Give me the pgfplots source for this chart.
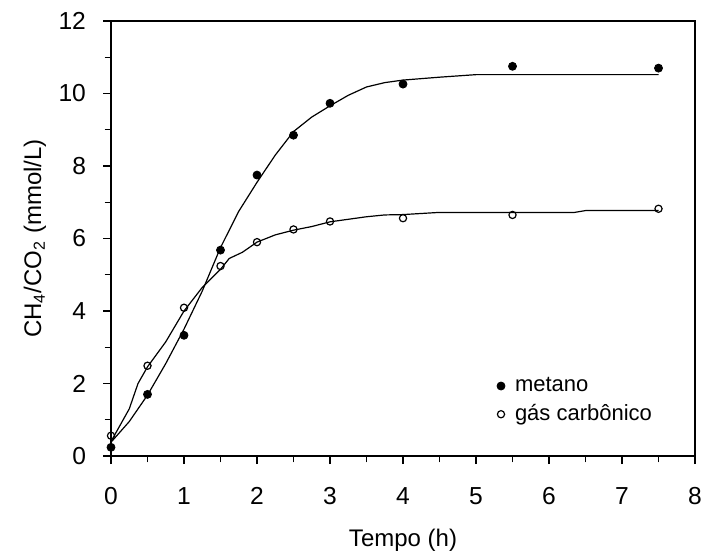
\documentclass[border=0pt]{standalone}
\usepackage{pgfplots}
\pgfplotsset{compat=1.18}
\usepackage{fontspec}
\setmainfont{Liberation Sans}
\begin{document}
\begin{tikzpicture}
\begin{axis}[
  scale only axis,
  width=292pt, height=217.5pt,
  xmin=0, xmax=8, ymin=0, ymax=12,
  xtick={0,1,...,8}, ytick={0,2,...,12},
  minor x tick num=1, minor y tick num=1,
  xtick pos=bottom, ytick pos=left,
  tick align=outside,
  major tick length=4pt, minor tick length=3.2pt,
  every tick/.style={black, line width=0.6pt},
  axis line style={line width=0.6pt},
  /pgf/number format/assume math mode=true,
  ticklabel style={font=\fontsize{12.3}{14}\selectfont},
  xticklabel style={yshift=-8pt},
  yticklabel style={xshift=-5pt},
  label style={font=\fontsize{12}{14}\selectfont},
  xlabel={Tempo (h)},
  ylabel={CH\textsubscript{4}/CO\textsubscript{2} (mmol/L)},
  xlabel style={at={(rel axis cs:0.5,0)}, anchor=center, yshift=-42pt},
  ylabel style={at={(rel axis cs:0,0.5)}, anchor=center, rotate=0, yshift=38pt},
  clip=false,
  legend style={at={(axis cs:5.2,2.4)}, anchor=north west, draw=none, fill=none,
    font=\fontsize{11}{13}\selectfont, row sep=1pt,
    /tikz/every odd column/.append style={column sep=3pt}},
  legend cell align=left,
]
\coordinate (ll) at (rel axis cs:0,0);
\coordinate (ur) at (rel axis cs:1,1);
% fitted curves
\addplot[black, line width=0.6pt, forget plot] coordinates {
(0,0.38) (0.25,0.95) (0.5,1.68) (0.75,2.55) (1,3.5) (1.25,4.55) (1.5,5.75) (1.75,6.75) (2,7.55) (2.25,8.3) (2.5,8.95) (2.75,9.35) (3,9.66) (3.25,9.95) (3.5,10.18) (3.75,10.3) (4,10.37) (4.5,10.45) (5,10.52) (5.5,10.52) (6,10.52) (7.5,10.52)};
\addplot[black, line width=0.6pt, forget plot] coordinates {
(0,0.4) (0.25,1.3) (0.37,2.0) (0.5,2.46) (0.75,3.15) (1,4.0) (1.25,4.65) (1.5,5.15) (1.62,5.45) (1.8,5.62) (2,5.9) (2.25,6.1) (2.5,6.23) (2.75,6.33) (3,6.46) (3.25,6.53) (3.5,6.6) (3.75,6.65) (4,6.66) (4.5,6.72) (6.35,6.72) (6.5,6.77) (7.5,6.77)};
% data
\addplot[only marks, mark=*, mark size=2pt, mark options={fill=black, draw=black}] coordinates {
(0,0.24) (0.5,1.70) (1,3.33) (1.5,5.68) (2,7.75) (2.5,8.85) (3,9.73) (4,10.26) (5.5,10.75) (7.5,10.70)};
\addlegendentry{metano}
\addplot[only marks, mark=o, mark size=1.8pt, mark options={fill=white, draw=black, line width=0.6pt}] coordinates {
(0,0.56) (0.5,2.49) (1,4.09) (1.5,5.24) (2,5.90) (2.5,6.25) (3,6.47) (4,6.56) (5.5,6.65) (7.5,6.82)};
\addlegendentry{gás carbônico}
\end{axis}
\pgfresetboundingbox
\useasboundingbox ([shift={(-55.5pt,-47.5pt)}]ll) rectangle ([shift={(5.5pt,10.5pt)}]ur);
\end{tikzpicture}
\end{document}
